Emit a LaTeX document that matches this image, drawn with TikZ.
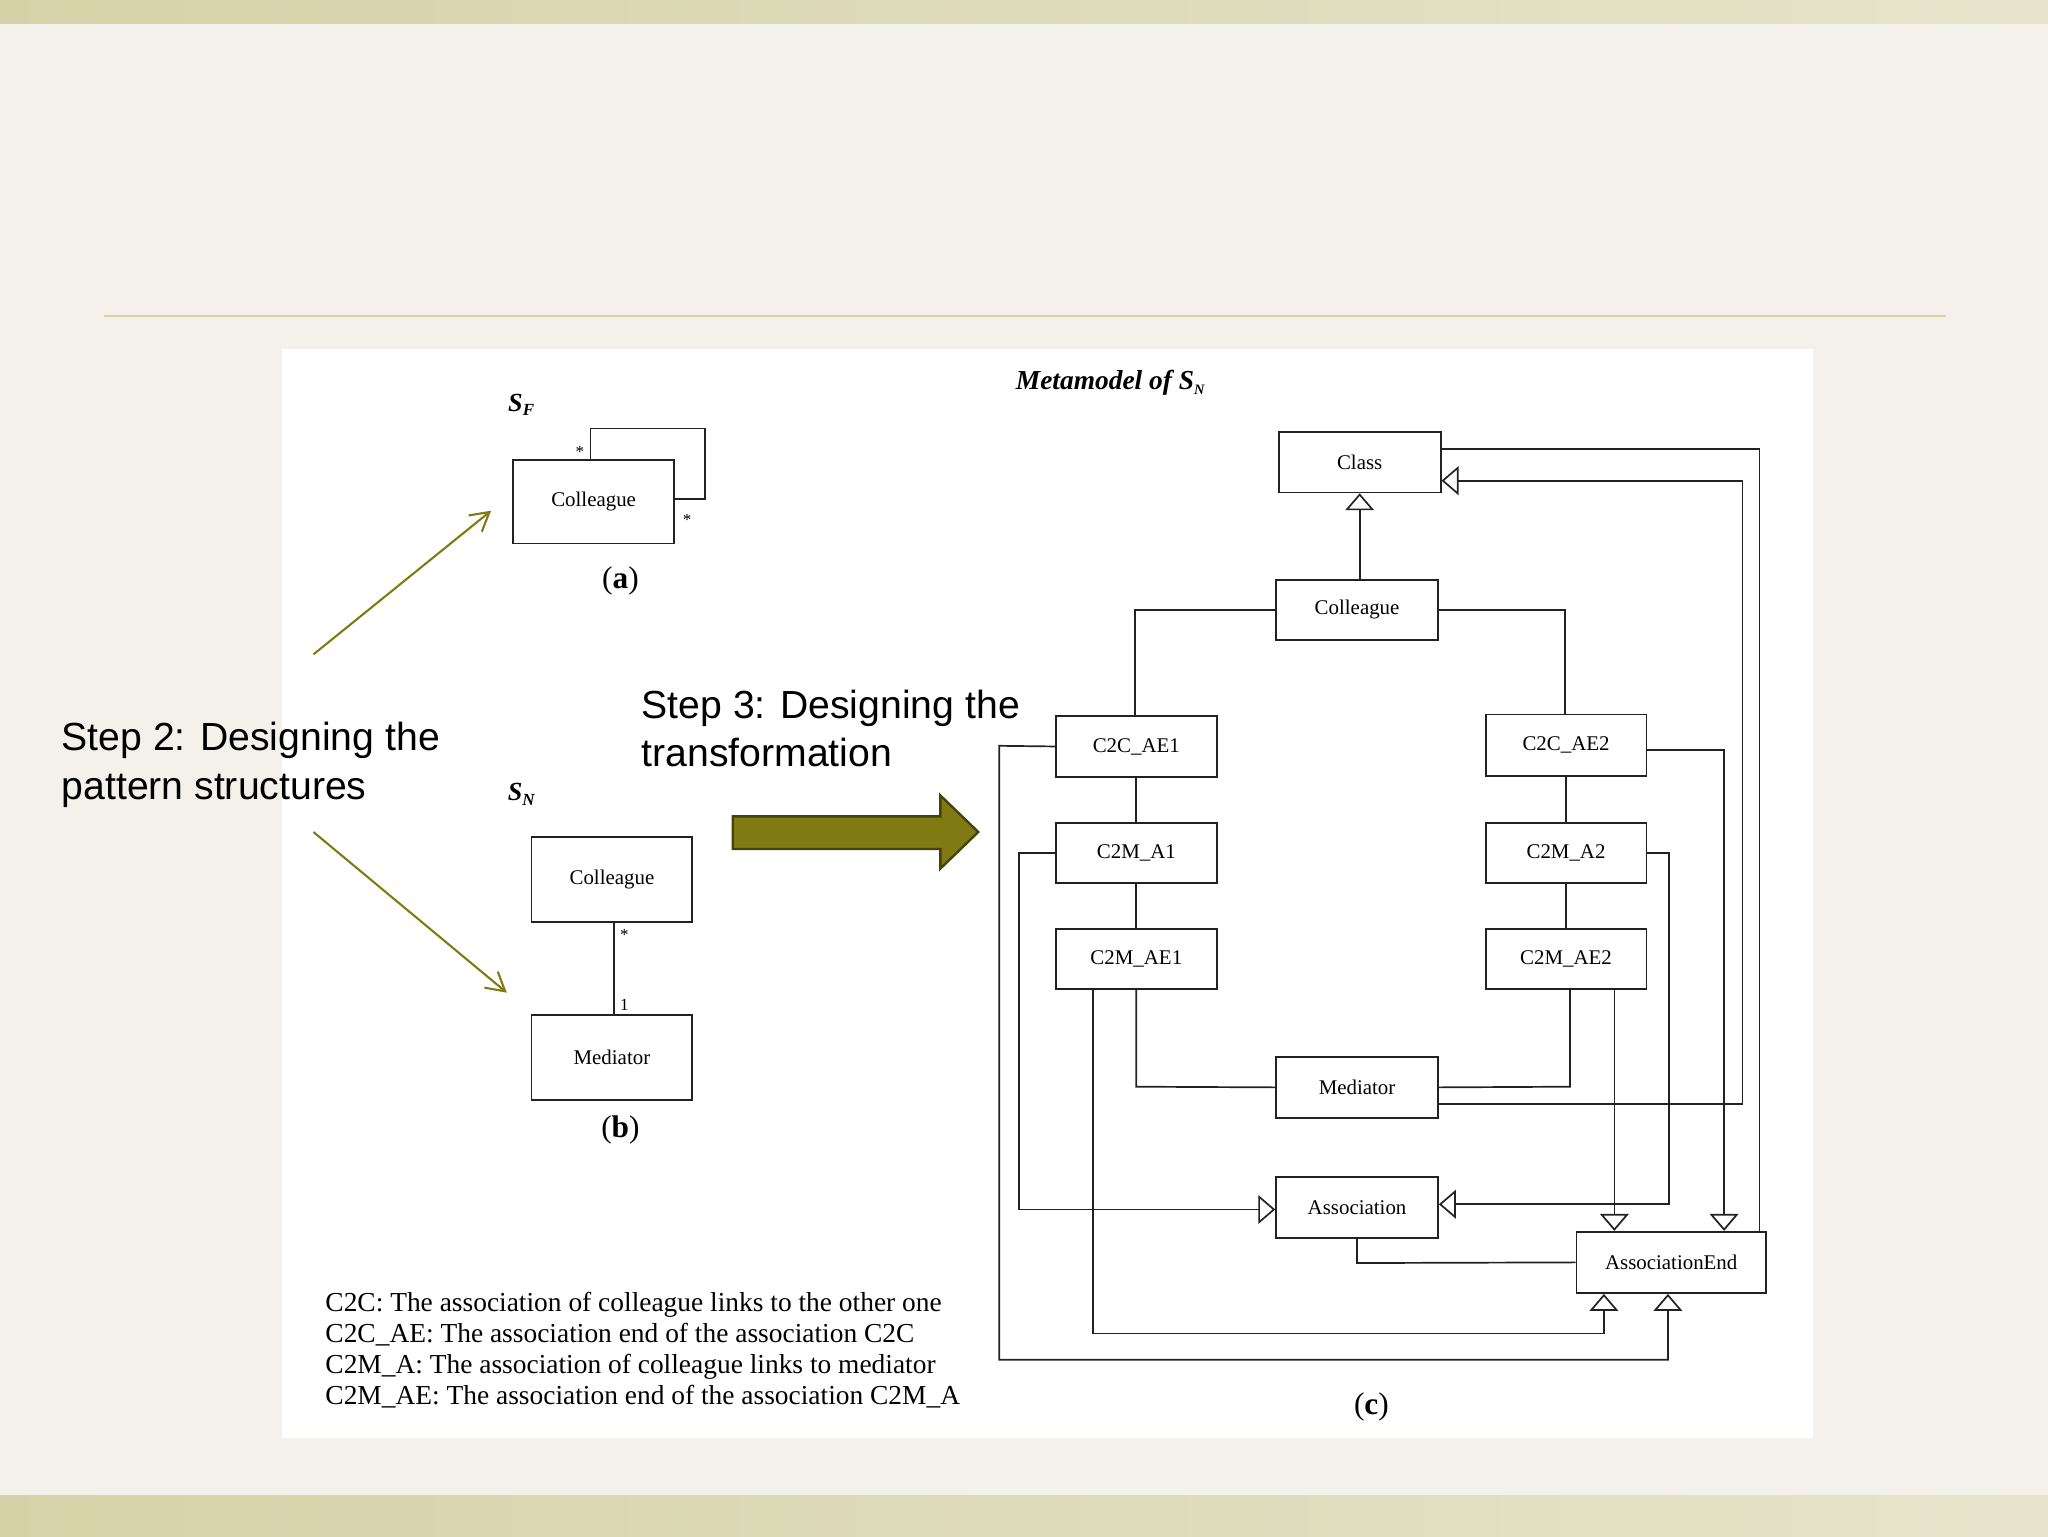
\documentclass[tikz,border=0pt]{standalone}
\usepackage{fontspec}
\setmainfont{Liberation Serif}
\newfontfamily\arialf{Liberation Sans}
\usetikzlibrary{arrows.meta}
\definecolor{bg}{HTML}{F3F1EA}
\definecolor{band}{HTML}{D6D2A8}
\definecolor{olive}{HTML}{7F7A12}
\definecolor{ln}{HTML}{222222}
\tikzset{
  cls/.style={draw=ln,line width=1.3pt,fill=white,minimum width=123pt,minimum height=46pt,inner sep=0pt,font=\fontsize{16}{16}\selectfont},
  wire/.style={draw=ln,line width=1.3pt},
  gen/.style={wire,-{Triangle[open,length=13pt,width=22pt]}},
  steptxt/.style={font=\arialf\fontsize{30}{37}\selectfont,align=left,anchor=north west,inner sep=0pt},
  leg/.style={font=\fontsize{21}{23.7}\selectfont,align=left,anchor=north west,inner sep=0pt},
}
\begin{document}
\begin{tikzpicture}[x=1pt,y=-1pt]
\useasboundingbox (0,0) rectangle (1568,1176);
\fill[bg] (0,0) rectangle (1568,1176);
\shade[left color=band,right color=band!60!white] (0,0) rectangle (1568,18);
\shade[left color=band,right color=band!60!white] (0,1145) rectangle (1568,1176);
\draw[band,line width=2pt] (80,242) -- (1490,242);
\fill[white] (216,267) rectangle (1388,1101);

% left texts
\node[steptxt] (s2) at (47,553) {Step 2: Designing the\\pattern structures};
\node[steptxt] (s3) at (491,528) {Step 3: Designing the\\transformation};
\coordinate (a1s) at (240,501); \coordinate (a1e) at (376,391);
\coordinate (a2s) at (240,637); \coordinate (a2e) at (388,760);
\draw[olive,line width=1.6pt,-{Straight Barb[length=14pt,width=16pt]}] (a1s) -- (a1e);
\draw[olive,line width=1.6pt,-{Straight Barb[length=14pt,width=16pt]}] (a2s) -- (a2e);
\draw[draw=olive!55!black,line width=1.8pt,fill=olive] (561,625) -- (720,625) -- (720,609) -- (749,637) -- (720,665) -- (720,650) -- (561,650) -- cycle;

% (a)
\node[font=\bfseries\itshape\fontsize{20}{20}\selectfont] (sf) at (399,310) {S\raisebox{-0.4ex}{\fontsize{13}{13}\selectfont F}};
\node[cls,minimum width=123pt,minimum height=64pt] (ca) at (454.5,384) {Colleague};
\draw[wire] (ca.north -| 452,0) -- (452,328) -- (540,328) -- (540,382) -- (ca.east |- 0,382);
\node[font=\fontsize{13}{13}\selectfont] (st1) at (444,346) {*};
\node[font=\fontsize{13}{13}\selectfont] (st2) at (526,398) {*};
\node[font=\fontsize{24}{24}\selectfont] (la) at (475,445) {(\textbf{a})};

% (b)
\node[font=\bfseries\itshape\fontsize{20}{20}\selectfont] (sn) at (399,608) {S\raisebox{-0.4ex}{\fontsize{13}{13}\selectfont N}};
\node[cls,minimum height=65pt] (cb) at (468.5,673.5) {Colleague};
\node[cls,minimum height=65pt] (mb) at (468.5,809.5) {Mediator};
\draw[wire] (cb.south -| 470,0) -- (mb.north -| 470,0);
\node[font=\fontsize{13}{13}\selectfont] (st3) at (478,716) {*};
\node[font=\fontsize{13}{13}\selectfont] (one) at (478,769) {1};
\node[font=\fontsize{24}{24}\selectfont] (lb) at (475,865) {(\textbf{b})};

% legend
\node[leg] (legend) at (249,989) {C2C: The association of colleague links to the other one\\C2C\_AE: The association end of the association C2C\\C2M\_A: The association of colleague links to mediator\\C2M\_AE: The association end of the association C2M\_A};

% (c)
\node[font=\bfseries\itshape\fontsize{21}{21}\selectfont] (title) at (850,293) {Metamodel of S\raisebox{-0.4ex}{\fontsize{11}{11}\selectfont N}};
\node[cls,minimum width=124pt] (cl) at (1041,354) {Class};
\node[cls,minimum width=124pt] (co) at (1039,467) {Colleague};
\node[cls,minimum height=47pt] (ae1) at (870,571.5) {C2C\_AE1};
\node[cls,minimum height=47pt] (ae2) at (1199,570.5) {C2C\_AE2};
\node[cls] (a1) at (870,653) {C2M\_A1};
\node[cls] (a2) at (1199,653) {C2M\_A2};
\node[cls] (me1) at (870,734) {C2M\_AE1};
\node[cls] (me2) at (1199,734) {C2M\_AE2};
\node[cls,minimum width=124pt,minimum height=47pt] (med) at (1039,832.5) {Mediator};
\node[cls,minimum width=124pt,minimum height=47pt] (asc) at (1039,924.5) {Association};
\node[cls,minimum width=145pt,minimum height=47pt] (ase) at (1279.5,966.5) {AssociationEnd};
\node[font=\fontsize{24}{24}\selectfont] (lc) at (1050,1077) {(\textbf{c})};

\draw[gen] (co.north -| 1041,0) -- (cl.south -| 1041,0);
\draw[wire] (co.west) -- (869,467) -- (ae1.north -| 869,0);
\draw[wire] (co.east) -- (1198,467) -- (ae2.north -| 1198,0);
\draw[wire] (ae1) -- (a1); \draw[wire] (a1) -- (me1);
\draw[wire] (ae2) -- (a2); \draw[wire] (a2) -- (me2);
\draw[wire] (me1.south -| 870,0) -- (870,832) -- (med.west);
\draw[wire] (me2.south -| 1202,0) -- (1202,832) -- (med.east);
\draw[wire] (cl.east |- 0,344) -- (1347,344) -- (ase.north -| 1347,0);
\draw[gen] (med.east |- 0,845) -- (1334,845) -- (1334,368) -- (cl.east |- 0,368);
\draw[gen] (ae2.east |- 0,574) -- (1320,574) -- (ase.north -| 1320,0);
\draw[gen] (a2.east) -- (1278,653) -- (1278,922) -- (asc.east |- 0,922);
\draw[gen] (a1.west) -- (780,653) -- (780,926) -- (asc.west |- 0,926);
\draw[gen] (me2.south -| 1236,0) -- (ase.north -| 1236,0);
\draw[wire] (asc.south) -- (1039,967) -- (ase.west);
\draw[gen] (me1.south -| 837,0) -- (837,1021) -- (1228,1021) -- (ase.south -| 1228,0);
\draw[gen] (ae1.west) -- (765,571) -- (765,1041) -- (1277,1041) -- (ase.south -| 1277,0);
\end{tikzpicture}
\end{document}
